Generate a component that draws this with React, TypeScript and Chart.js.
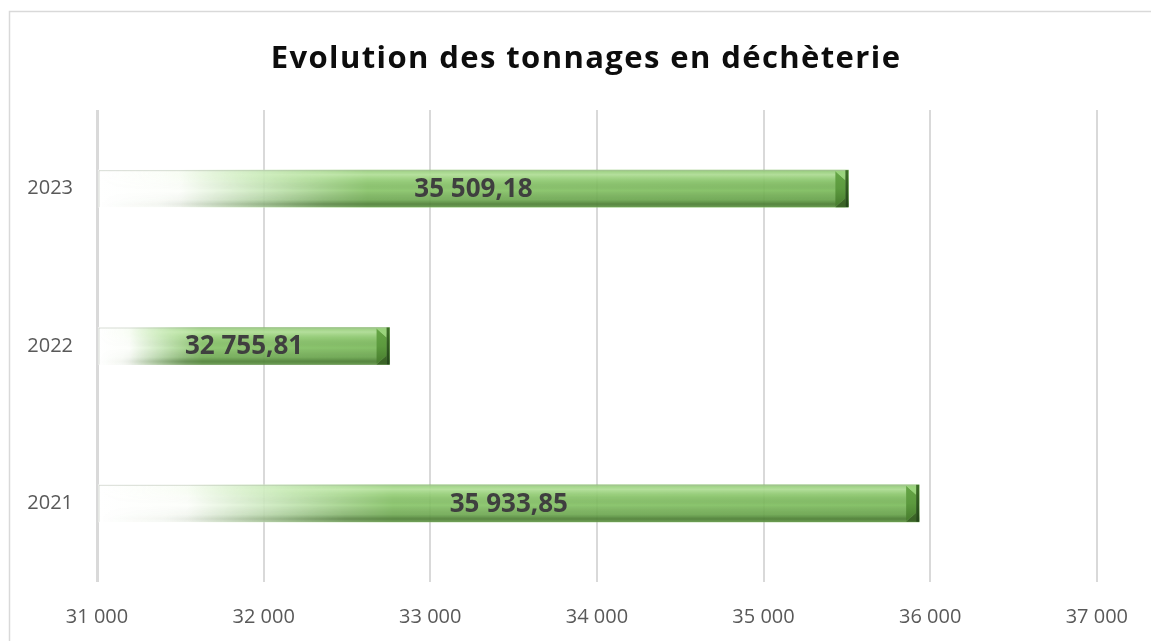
import React, { useEffect, useRef } from "react";
import { Chart, registerables } from "chart.js";
Chart.register(...registerables);

const TITLE = "Evolution des tonnages en déchèterie";
const categories = ["2023", "2022", "2021"];
const tonnages = [35509.18, 32755.81, 35933.85];
const xMin = 31000;
const xMax = 37000;
const xStep = 1000;

const W = 1151;
const H = 641;
const FONT = "'Open Sans', 'Noto Sans', sans-serif";

const groupThousands = (s: string) => s.replace(/\B(?=(\d{3})+(?!\d))/g, " ");
const fmtInt = (v: number) => groupThousands(String(Math.round(v)));
const fmtDec = (v: number) => {
  const [i, d] = v.toFixed(2).split(".");
  return groupThousands(i) + "," + d;
};

const framePlugin = {
  id: "frame",
  beforeDraw(chart: any) {
    const ctx = chart.ctx;
    ctx.save();
    ctx.fillStyle = "#ffffff";
    ctx.fillRect(0, 0, chart.width, chart.height);
    ctx.strokeStyle = "#d9d9d9";
    ctx.lineWidth = 1.5;
    ctx.strokeRect(9.5, 11.5, chart.width + 20, chart.height + 20);
    ctx.fillStyle = "#0d0d0d";
    ctx.font = `bold 31px ${FONT}`;
    ctx.textAlign = "center";
    ctx.textBaseline = "middle";
    try {
      (ctx as any).letterSpacing = "1.4px";
    } catch (e) {}
    ctx.fillText(TITLE, 586, 59);
    ctx.restore();
  },
};

const barFxPlugin = {
  id: "barFx",
  afterDatasetsDraw(chart: any) {
    const ctx: CanvasRenderingContext2D = chart.ctx;
    const area = chart.chartArea;
    const meta = chart.getDatasetMeta(0);
    meta.data.forEach((el: any, i: number) => {
      const { x, y, base, height } = el.getProps(["x", "y", "base", "height"], true);
      const left = Math.max(area.left, Math.min(x, base));
      const right = Math.min(area.right, Math.max(x, base));
      const top = y - height / 2;
      const bottom = y + height / 2;
      const L = right - left;
      const h = height;
      if (L <= 2) return;

      // vertical shading, faded in horizontally (offscreen mask)
      const off = document.createElement("canvas");
      off.width = Math.ceil(L);
      off.height = Math.ceil(h);
      const o = off.getContext("2d")!;
      const vg = o.createLinearGradient(0, 0, 0, h);
      vg.addColorStop(0, "rgba(190,230,170,0.30)");
      vg.addColorStop(0.12, "rgba(215,245,195,0.55)");
      vg.addColorStop(0.3, "rgba(190,230,165,0.15)");
      vg.addColorStop(0.55, "rgba(0,0,0,0)");
      vg.addColorStop(0.8, "rgba(30,70,15,0.18)");
      vg.addColorStop(0.92, "rgba(25,55,10,0.45)");
      vg.addColorStop(1, "rgba(40,70,25,0.30)");
      o.fillStyle = vg;
      o.fillRect(0, 0, L, h);
      o.globalCompositeOperation = "destination-in";
      const hg = o.createLinearGradient(0, 0, L, 0);
      hg.addColorStop(0, "rgba(0,0,0,0)");
      hg.addColorStop(0.08, "rgba(0,0,0,0.1)");
      hg.addColorStop(0.3, "rgba(0,0,0,1)");
      hg.addColorStop(1, "rgba(0,0,0,1)");
      o.fillStyle = hg;
      o.fillRect(0, 0, L, h);
      ctx.drawImage(off, left, top);

      ctx.save();
      // faint outline on top/left edge
      ctx.strokeStyle = "rgba(170,180,165,0.45)";
      ctx.lineWidth = 1;
      ctx.beginPath();
      ctx.moveTo(left + 0.5, bottom);
      ctx.lineTo(left + 0.5, top + 0.5);
      ctx.lineTo(right, top + 0.5);
      ctx.stroke();

      // right end bevel: facet
      const bw = 13;
      const sw = 3;
      ctx.beginPath();
      ctx.moveTo(right - bw, top + 1);
      ctx.lineTo(right - sw, top + 10);
      ctx.lineTo(right - sw, bottom - 9);
      ctx.lineTo(right - bw, bottom - 1);
      ctx.closePath();
      const fg = ctx.createLinearGradient(0, top, 0, bottom);
      fg.addColorStop(0, "#66a646");
      fg.addColorStop(0.5, "#5c9a3e");
      fg.addColorStop(1, "#467a2d");
      ctx.fillStyle = fg;
      ctx.fill();
      // top-right light triangle
      ctx.beginPath();
      ctx.moveTo(right - bw, top + 1);
      ctx.lineTo(right - sw, top + 1);
      ctx.lineTo(right - sw, top + 10);
      ctx.closePath();
      ctx.fillStyle = "rgba(150,210,120,0.85)";
      ctx.fill();
      // bottom-right dark triangle
      ctx.beginPath();
      ctx.moveTo(right - bw, bottom);
      ctx.lineTo(right - sw, bottom);
      ctx.lineTo(right - sw, bottom - 9);
      ctx.closePath();
      ctx.fillStyle = "rgba(55,95,35,0.9)";
      ctx.fill();
      // right strip
      const sg = ctx.createLinearGradient(0, top, 0, bottom);
      sg.addColorStop(0, "#3d6e27");
      sg.addColorStop(1, "#24451a");
      ctx.fillStyle = sg;
      ctx.fillRect(right - sw, top, sw, h);

      // value label
      ctx.fillStyle = "#3f3f3f";
      ctx.font = `bold 26px ${FONT}`;
      ctx.textAlign = "center";
      ctx.textBaseline = "middle";
      ctx.fillText(fmtDec(tonnages[i]), (left + right) / 2, y + 1);
      ctx.restore();
    });
  },
};

export default function App() {
  const ref = useRef<HTMLCanvasElement | null>(null);

  useEffect(() => {
    if (!ref.current) return;
    const chart = new Chart(ref.current, {
      type: "bar",
      data: {
        labels: categories,
        datasets: [
          {
            label: "Tonnages",
            data: tonnages,
            base: xMin,
            barThickness: 37,
            borderWidth: 0,
            backgroundColor: (c: any) => {
              const ch = c.chart;
              const xs = ch.scales && ch.scales.x;
              if (!ch.chartArea || !xs || typeof c.raw !== "number") return "rgba(130,192,98,0.9)";
              const l = xs.getPixelForValue(xMin);
              const r = xs.getPixelForValue(c.raw);
              const g = ch.ctx.createLinearGradient(l, 0, r, 0);
              g.addColorStop(0, "rgba(255,255,255,0.92)");
              g.addColorStop(0.11, "rgba(252,254,250,0.9)");
              g.addColorStop(0.22, "rgba(200,232,185,0.9)");
              g.addColorStop(0.36, "rgba(134,196,102,0.9)");
              g.addColorStop(1, "rgba(124,188,92,0.92)");
              return g;
            },
          },
        ],
      },
      options: {
        indexAxis: "y",
        responsive: false,
        animation: false,
        events: [],
        layout: { padding: { left: 0, right: 52, top: 110, bottom: 0 } },
        plugins: {
          legend: { display: false },
          title: { display: false },
          tooltip: { enabled: false },
        },
        scales: {
          x: {
            min: xMin,
            max: xMax,
            grid: {
              color: "#d9d9d9",
              lineWidth: (c: any) => (c.index === 0 ? 3 : 2),
              drawTicks: false,
            },
            border: { display: false },
            ticks: {
              stepSize: xStep,
              color: "#595959",
              font: { family: FONT, size: 20 },
              padding: 23,
              callback: (v: any) => fmtInt(Number(v)),
            },
            afterFit: (s: any) => {
              s.height = 59;
            },
          },
          y: {
            grid: { display: false, drawTicks: false },
            border: { display: false },
            ticks: {
              color: "#595959",
              font: { family: FONT, size: 20 },
              padding: 24,
            },
            afterFit: (s: any) => {
              s.width = 97;
            },
          },
        },
      },
      plugins: [framePlugin, barFxPlugin],
    } as any);
    return () => chart.destroy();
  }, []);

  return (
    <div style={{ position: "fixed", left: 0, top: 0, width: W, height: H, background: "#fff" }}>
      <canvas ref={ref} width={W} height={H} style={{ display: "block", width: W, height: H }} />
    </div>
  );
}
